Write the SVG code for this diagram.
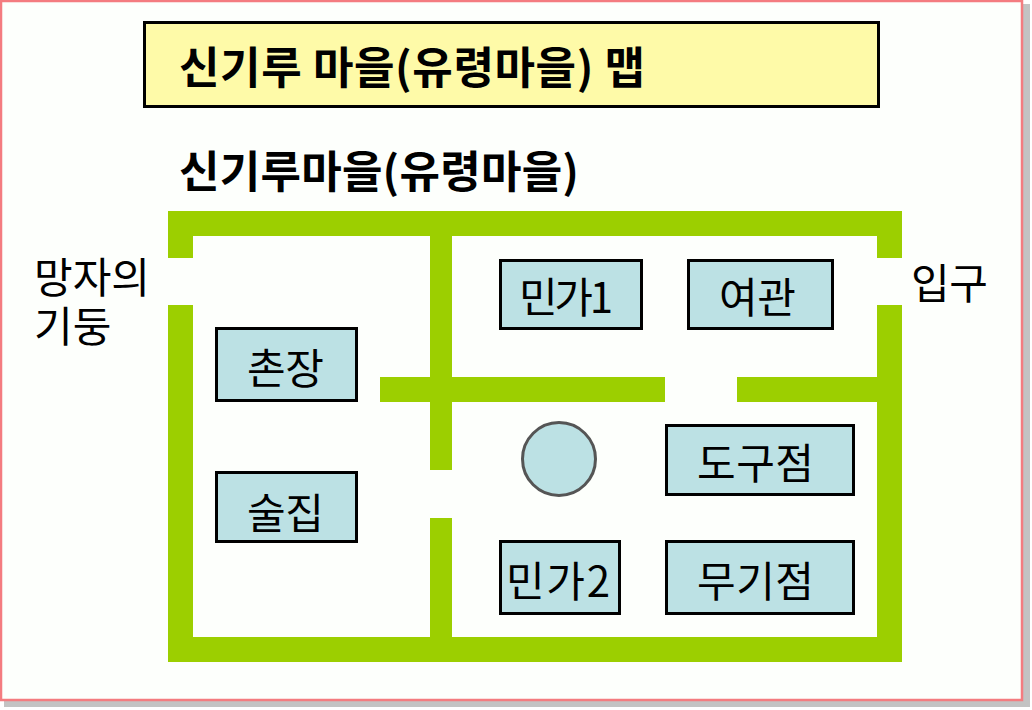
<svg xmlns="http://www.w3.org/2000/svg" width="1032" height="710" viewBox="0 0 1032 710">
<style>
text{font-family:"Noto Sans CJK KR","Noto Sans",sans-serif;fill:#000}
.t{font-size:42px;font-weight:400}
.h{font-size:44px;font-weight:700}
.n rect{fill:#bce1e4;stroke:#000;stroke-width:3}
.w{fill:#9ccf00}
</style>
<rect x="4" y="4" width="1026" height="703" fill="#aaa" opacity=".7"/>
<rect x="1" y="1" width="1021" height="699" fill="#fdfffc" stroke="#f47c80" stroke-width="2.500"/>
<g id="title"><rect x="144.500" y="22.500" width="734" height="84" fill="#fefaa8" stroke="#000" stroke-width="3"/><text class="h" x="179" y="84" textLength="466">신기루 마을(유령마을) 맵</text></g>
<text class="h" x="179" y="188" textLength="400">신기루마을(유령마을)</text>
<g id="walls" class="w">
<rect x="168" y="211" width="734" height="25"/>
<rect x="168" y="637" width="734" height="25"/>
<rect x="168" y="211" width="25" height="47"/>
<rect x="168" y="305" width="25" height="357"/>
<rect x="877" y="211" width="25" height="47"/>
<rect x="877" y="305" width="25" height="357"/>
<rect x="430" y="236" width="22" height="234"/>
<rect x="430" y="518" width="22" height="119"/>
<rect x="380" y="377" width="285" height="25"/>
<rect x="737" y="377" width="140" height="25"/>
</g>
<g id="connectors"></g>
<g id="label-pillar"><text class="t"><tspan x="34" y="293">망자의</tspan><tspan x="34" y="342">기둥</tspan></text></g>
<g id="label-entrance"><text class="t" x="911" y="299" textLength="77">입구</text></g>
<g id="minga1" class="n"><rect x="500.500" y="260.500" width="141" height="68"/><text class="t" x="519" y="313" textLength="94">민가1</text></g>
<g id="yeogwan" class="n"><rect x="688.500" y="260.500" width="144" height="68"/><text class="t" x="719" y="313" textLength="77">여관</text></g>
<g id="chonjang" class="n"><rect x="216.500" y="328.500" width="140" height="72"/><text class="t" x="247" y="384" textLength="77">촌장</text></g>
<g id="suljip" class="n"><rect x="216.500" y="472.500" width="140" height="69"/><text class="t" x="247" y="529" textLength="77">술집</text></g>
<g id="dogujeom" class="n"><rect x="666.500" y="425.500" width="187" height="69"/><text class="t" x="697" y="479" textLength="117">도구점</text></g>
<g id="minga2" class="n"><rect x="500.500" y="541.500" width="119" height="72"/><text class="t" x="506" y="597" textLength="104">민가2</text></g>
<g id="mugijeom" class="n"><rect x="666.500" y="541.500" width="187" height="72"/><text class="t" x="697" y="597" textLength="117">무기점</text></g>
<g id="well"><circle cx="559" cy="459" r="36.500" fill="#bce1e4" stroke="#555" stroke-width="3"/></g>
</svg>
